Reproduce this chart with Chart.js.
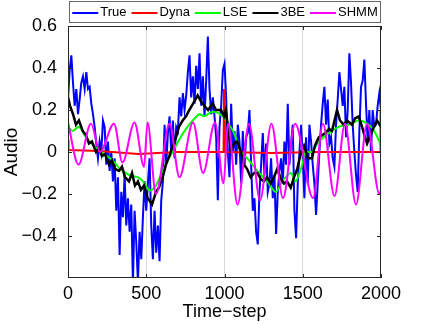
<!DOCTYPE html>
<html>
<head>
<meta charset="utf-8">
<script src="https://cdn.jsdelivr.net/npm/chart.js@4.4.1/dist/chart.umd.min.js"></script>
<style>
  html, body { margin: 0; padding: 0; background: #fff; }
</style>
</head>
<body>
<canvas id="grafico" width="421" height="324"></canvas>
<script>
const seriesNames = ['True', 'Dyna', 'LSE', '3BE', 'SHMM'];
const seriesColors = ['#0000ff', '#ff0000', '#00ff00', '#000000', '#ff00ff'];
const xTicks = [0, 500, 1000, 1500, 2000];
const yTicks = [-0.4, -0.2, 0, 0.2, 0.4, 0.6];

// True signal, evenly spaced over 0..2000
const trueValues = [
  0.25, 0.39, 0.46, 0.33, 0.22, 0.30, 0.18, 0.25, 0.33, 0.36, 0.30, 0.38, 0.30, 0.31, 0.23, 0.18,
  0.12, 0.04, -0.03, 0.05, 0.00, 0.15, 0.12, -0.06, 0.05, -0.09, 0.00, -0.14, -0.03, -0.28, -0.12,
  -0.49, -0.19, -0.31, -0.11, -0.35, -0.22, -0.38, -0.25, -0.62, -0.28, -0.43, -0.62, -0.38, -0.51,
  -0.31, -0.14,
  -0.28, -0.15, -0.03, -0.35, -0.51, -0.28, -0.48, -0.35, -0.52, -0.23, -0.14, 0.13, -0.06, 0.09,
  0.17, 0.00, 0.15, -0.03, 0.12, 0.10, 0.26, 0.17, 0.28, 0.20, 0.27, 0.38, 0.46, 0.26, 0.36, 0.23,
  0.41, 0.30, 0.47, 0.22, 0.36, 0.17, 0.34, 0.55, 0.30, 0.18, 0.26, 0.17, 0.07, -0.23, 0.12, 0.22, 0.39,
  0.42, 0.26, 0.00, -0.12, 0.23, 0.00, 0.10, -0.06, 0.13, 0.05, -0.15, 0.10, -0.07, 0.07, 0.09, 0.20,
  -0.06, -0.28, -0.22, -0.38, -0.44, -0.19, -0.06, 0.09, -0.11, 0.04, -0.19, -0.15, -0.03, -0.22,
  -0.11, -0.39, -0.19, -0.09, -0.03, -0.15, 0.05, -0.06, 0.23, -0.06, 0.04, 0.13, -0.28, -0.41, -0.15,
  0.00, 0.13,
  -0.03, -0.22, 0.07, -0.15, 0.13, 0.05, -0.06, -0.15, -0.30, -0.15, 0.00, 0.13, 0.23, 0.31, 0.13,
  0.25, 0.04, 0.07, -0.03, -0.07, 0.13, 0.25, 0.38, 0.30, 0.22, 0.31, 0.07, 0.20, 0.47, 0.33, 0.13,
  0.00, -0.11, -0.19, 0.10, 0.31, 0.34, 0.44, 0.23, 0.05, 0.20, 0.00, 0.20, 0.12, 0.13, 0.22, 0.28, 0.20
];

const dynaT = [0, 3, 200, 450, 700, 994, 997, 1001, 1004, 1300, 1600, 1994, 1997, 2000];
const dynaV = [0.06, 0.01, 0.005, -0.01, 0.0, 0.0, 0.30, 0.25, 0.0, -0.005, 0.0, 0.0, 0.19, 0.19];

const lseT = [0, 30, 70, 115, 179, 230, 286, 332, 392, 445, 479, 514, 537, 562, 605, 636, 669, 711,
  754, 797, 839, 871, 914, 946, 989, 1020, 1061, 1104, 1146, 1210, 1274, 1327, 1369, 1423, 1455,
  1497, 1519, 1559, 1602, 1666, 1730, 1794, 1858, 1922, 1964, 2000];
const lseV = [0.12, 0.10, 0.12, 0.07, 0.02, -0.01, -0.04, -0.08, -0.11, -0.12, -0.14, -0.18, -0.18,
  -0.16, -0.09, -0.04, 0.00, 0.06, 0.11, 0.15, 0.18, 0.17, 0.19, 0.19, 0.17, 0.14, 0.09, 0.00, -0.03,
  -0.09, -0.14, -0.19, -0.14, -0.10, -0.14, -0.06, 0.00, 0.00, 0.05, 0.09, 0.12, 0.13, 0.15, 0.13,
  0.09, 0.03];

const tbeT = [0, 13, 32, 51, 70, 94, 115, 134, 153, 179, 198, 217, 236, 262, 281, 300, 326, 345, 364,
  390, 409, 428, 447, 466, 486, 509, 520, 537, 562, 581, 605, 626, 647, 665, 690, 709, 733, 754, 775,
  799, 829, 850, 871, 895, 925, 946, 978, 997, 1008, 1020, 1040, 1061, 1082, 1105, 1125, 1144, 1167,
  1189, 1210, 1233, 1252, 1272, 1295, 1316, 1337, 1361, 1380, 1399, 1423, 1444, 1465, 1489, 1508,
  1534, 1559, 1578, 1602, 1623, 1644, 1668, 1687, 1719, 1738, 1762, 1783, 1815, 1834, 1858, 1879,
  1898, 1911, 1943, 1975, 2000];
const tbeV = [0.26, 0.22, 0.18, 0.13, 0.15, 0.10, 0.08, 0.04, 0.05, 0.00, 0.02, -0.02, -0.01, -0.06,
  -0.04, -0.08, -0.09, -0.07, -0.12, -0.14, -0.10, -0.16, -0.14, -0.18, -0.16, -0.22, -0.23, -0.25,
  -0.19, -0.17, -0.12, -0.06, -0.02, 0.02, 0.07, 0.12, 0.15, 0.17, 0.20, 0.23, 0.27, 0.24, 0.22, 0.20,
  0.23, 0.20, 0.20, 0.17, 0.20, 0.13, 0.01, 0.04, 0.05, 0.00, -0.06, -0.08, -0.12, -0.10, -0.10, -0.13,
  -0.14, -0.12, -0.15, -0.12, -0.08, -0.13, -0.15, -0.14, -0.17, -0.12, -0.08, 0.00, 0.03, -0.03,
  -0.03, 0.03, 0.07, 0.08, 0.09, 0.11, 0.10, 0.20, 0.15, 0.13, 0.15, 0.13, 0.16, 0.17, 0.12, 0.07,
  0.04, 0.10, 0.15, 0.12];

const shmmT = [0, 67, 147, 204, 294, 348, 425, 486, 508, 562, 649, 712, 799, 863, 939, 994, 1022, 1083,
  1157, 1227, 1300, 1374, 1451, 1566, 1629, 1703, 1770, 1840, 1911, 1990, 2000];
const shmmV = [0.14, -0.06, 0.135, 0.0, 0.135, -0.05, 0.14, -0.07, 0.14, -0.20, 0.135, -0.12, 0.14,
  -0.10, 0.14, -0.15, 0.135, -0.25, 0.135, -0.23, 0.135, -0.22, 0.135, -0.22, 0.135, -0.21, 0.135,
  -0.25, 0.135, -0.20, -0.18];

const fonte = '"Liberation Sans", Arial, Helvetica, sans-serif';
Chart.defaults.font.family = fonte;

function pares(t, v) {
  return t.map((x, i) => ({ x: x, y: v[i] }));
}
const trueT = trueValues.map((_, i) => i * 2000 / (trueValues.length - 1));

// caixa, ticks para dentro e legenda desenhados à mão (estilo MATLAB)
const moldura = {
  id: 'moldura',
  afterDraw(chart) {
    const ctx = chart.ctx;
    const { left, right, top, bottom } = chart.chartArea;
    const xs = chart.scales.x, ys = chart.scales.y;
    ctx.save();
    ctx.strokeStyle = '#262626';
    ctx.lineWidth = 1;
    ctx.beginPath();
    xTicks.forEach(v => {
      const px = Math.round(xs.getPixelForValue(v)) + 0.5;
      ctx.moveTo(px, bottom); ctx.lineTo(px, bottom - 4);
      ctx.moveTo(px, top); ctx.lineTo(px, top + 4);
    });
    yTicks.forEach(v => {
      const py = Math.round(ys.getPixelForValue(v)) + 0.5;
      ctx.moveTo(left, py); ctx.lineTo(left + 4, py);
      ctx.moveTo(right, py); ctx.lineTo(right - 4, py);
    });
    ctx.stroke();
    ctx.strokeRect(Math.round(left) + 0.5, Math.round(top) + 0.5,
      Math.round(right - left) - 1, Math.round(bottom - top) - 1);

    // legenda
    const bx0 = Math.round(left) + 1, bx1 = Math.round(right), by0 = 1, by1 = 23;
    ctx.fillStyle = '#fff';
    ctx.fillRect(bx0, by0, bx1 - bx0, by1 - by0);
    ctx.strokeStyle = '#666';
    ctx.strokeRect(bx0 + 0.5, by0 + 0.5, bx1 - bx0 - 1, by1 - by0 - 1);
    ctx.font = '13px ' + fonte;
    const larg = seriesNames.map(n => ctx.measureText(n).width);
    const total = larg.reduce((a, b) => a + b, 0) + 28 * seriesNames.length + 5 * (seriesNames.length - 1);
    let x = bx0 + (bx1 - bx0 - total) / 2;
    const yc = 12.5;
    ctx.textBaseline = 'middle';
    seriesNames.forEach((n, i) => {
      ctx.strokeStyle = seriesColors[i];
      ctx.lineWidth = 2;
      ctx.beginPath();
      ctx.moveTo(x, yc + 0.5); ctx.lineTo(x + 26, yc + 0.5);
      ctx.stroke();
      ctx.fillStyle = '#000';
      ctx.fillText(n, x + 28, yc);
      x += 28 + larg[i] + 5;
    });
    ctx.restore();
  }
};

const canvas = document.getElementById('grafico');
const ctx = canvas.getContext('2d');

const grafico = new Chart(ctx, {
  type: 'line',
  data: {
    datasets: [
      { label: seriesNames[0], data: pares(trueT, trueValues), borderColor: seriesColors[0], borderWidth: 2, order: 5, tension: 0 },
      { label: seriesNames[1], data: pares(dynaT, dynaV), borderColor: seriesColors[1], borderWidth: 2, order: 4, tension: 0 },
      { label: seriesNames[2], data: pares(lseT, lseV), borderColor: seriesColors[2], borderWidth: 2, order: 3, tension: 0.3 },
      { label: seriesNames[3], data: pares(tbeT, tbeV), borderColor: seriesColors[3], borderWidth: 2.5, order: 2, tension: 0 },
      { label: seriesNames[4], data: pares(shmmT, shmmV), borderColor: seriesColors[4], borderWidth: 2, order: 1, cubicInterpolationMode: 'monotone' }
    ]
  },
  options: {
    responsive: false,
    animation: false,
    devicePixelRatio: 1,
    elements: { point: { radius: 0 }, line: { fill: false } },
    layout: { padding: { left: 0, right: 40, top: 26, bottom: 0 } },
    plugins: { legend: { display: false }, tooltip: { enabled: false } },
    scales: {
      x: {
        type: 'linear', min: 0, max: 2000,
        afterFit(s) { s.height = 46; },
        afterBuildTicks(s) { s.ticks = xTicks.map(v => ({ value: v })); },
        grid: {
          drawTicks: false,
          color: c => (c.tick && (c.tick.value === 0 || c.tick.value === 2000)) ? 'rgba(0,0,0,0)' : '#d9d9d9'
        },
        border: { display: false },
        ticks: { padding: 5, color: '#000', font: { size: 18 }, maxRotation: 0, autoSkip: false, callback: v => String(v) },
        title: { display: true, text: 'Time\u2212step', color: '#000', font: { size: 18 }, padding: { top: 0, bottom: 1 } }
      },
      y: {
        min: -0.6, max: 0.6,
        afterFit(s) { s.width = 68; },
        afterBuildTicks(s) { s.ticks = yTicks.map(v => ({ value: v })); },
        grid: { display: false },
        border: { display: false },
        ticks: {
          padding: 3, color: '#000', font: { size: 18 },
          callback: v => {
            const r = Math.round(v * 10) / 10;
            if (r === 0) return '0';
            return (r < 0 ? '\u2212' : '') + Math.abs(r).toFixed(1);
          }
        },
        title: { display: true, text: 'Audio', color: '#000', font: { size: 19 }, padding: { top: 0, bottom: 0 } }
      }
    }
  },
  plugins: [moldura]
});
</script>
</body>
</html>
